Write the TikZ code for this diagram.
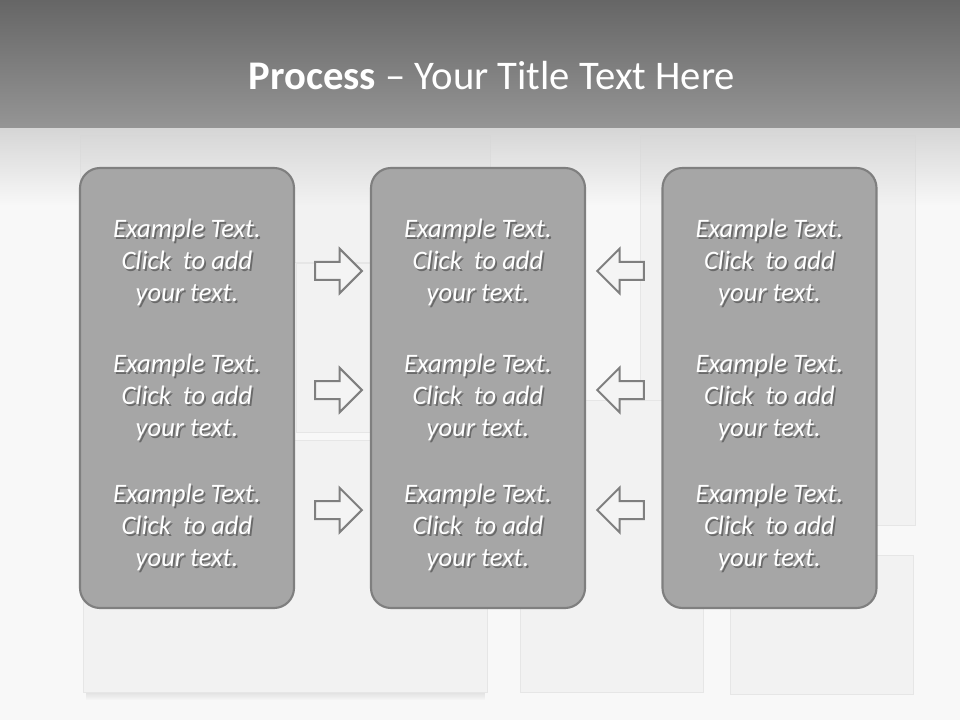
\documentclass[tikz,border=0pt]{standalone}
\usepackage{fontspec}
\setmainfont{Carlito}
\usetikzlibrary{shapes.arrows,fadings}

\definecolor{bandtop}{HTML}{666666}
\definecolor{bandbot}{HTML}{959595}
\definecolor{pagebg}{HTML}{F8F8F8}
\definecolor{sheet}{HTML}{F2F2F2}
\definecolor{sheetedge}{HTML}{E6E6E6}
\definecolor{boxfill}{HTML}{A6A6A6}
\definecolor{boxline}{HTML}{7F7F7F}
\definecolor{arrowfill}{HTML}{F4F4F4}
\definecolor{txtshade}{HTML}{6A6A6A}

% white text with a soft drop shadow
\newcommand{\shd}[1]{\rlap{\kern1.3pt\raisebox{-1.6pt}{\color{txtshade}#1}}#1}

\begin{document}
\begin{tikzpicture}[
  x=0.75pt,y=-0.75pt,
  paper/.style={fill=sheet,draw=sheetedge,line width=0.6pt},
  column/.style={draw=boxline,fill=boxfill,line width=1.6pt,rounded corners=15pt,minimum width=160.5pt,minimum height=330pt,inner sep=0pt},
  entry/.style={text=white,align=center,font=\fontsize{20}{24}\selectfont\itshape},
  fwd/.style={single arrow,draw=boxline,fill=arrowfill,line width=1.5pt,inner sep=0pt,inner ysep=6pt,single arrow head extend=10pt,single arrow tip angle=90,minimum height=35pt},
  back/.style={fwd,shape border rotate=180}
]
\useasboundingbox (0,0) rectangle (960,720);
\fill[pagebg] (0,0) rectangle (960,720);
\shade[top color=bandtop,bottom color=bandbot] (0,0) rectangle (960,128);

% paper sheets behind
\fill[paper] (80,135) rectangle (490,262);
\fill[paper] (296,263) rectangle (496,432);
\fill[paper] (640,135) rectangle (915,525);
\fill[black!12,path fading=south] (86,692) rectangle (485,700);
\fill[paper] (83,440) rectangle (487,692);
\fill[paper] (520,400) rectangle (703,692);
\fill[paper] (730,555) rectangle (913,694);
\fill[black!16,path fading=south] (0,128) rectangle (960,205);

\node[text=white,font=\fontsize{30.5}{36}\selectfont] (title) at (492,76) {\textbf{Process} -- Your Title Text Here};

\node[column] (colA) at (187,388) {};
\node[column] (colB) at (478,388) {};
\node[column] (colC) at (769.5,388) {};

\node[entry] (a1) at (187,263) {\shd{Example Text.}\\\shd{Click~ to add}\\\shd{your text.}};
\node[entry] (a2) at (187,398) {\shd{Example Text.}\\\shd{Click~ to add}\\\shd{your text.}};
\node[entry] (a3) at (187,528) {\shd{Example Text.}\\\shd{Click~ to add}\\\shd{your text.}};
\node[entry] (b1) at (478,263) {\shd{Example Text.}\\\shd{Click~ to add}\\\shd{your text.}};
\node[entry] (b2) at (478,398) {\shd{Example Text.}\\\shd{Click~ to add}\\\shd{your text.}};
\node[entry] (b3) at (478,528) {\shd{Example Text.}\\\shd{Click~ to add}\\\shd{your text.}};
\node[entry] (c1) at (769.5,263) {\shd{Example Text.}\\\shd{Click~ to add}\\\shd{your text.}};
\node[entry] (c2) at (769.5,398) {\shd{Example Text.}\\\shd{Click~ to add}\\\shd{your text.}};
\node[entry] (c3) at (769.5,528) {\shd{Example Text.}\\\shd{Click~ to add}\\\shd{your text.}};

\node[fwd] (r1) at (334,271) {};
\node[fwd] (r2) at (334,390) {};
\node[fwd] (r3) at (334,510) {};
\node[back] (l1) at (625,271) {};
\node[back] (l2) at (625,390) {};
\node[back] (l3) at (625,510) {};
\end{tikzpicture}
\end{document}
